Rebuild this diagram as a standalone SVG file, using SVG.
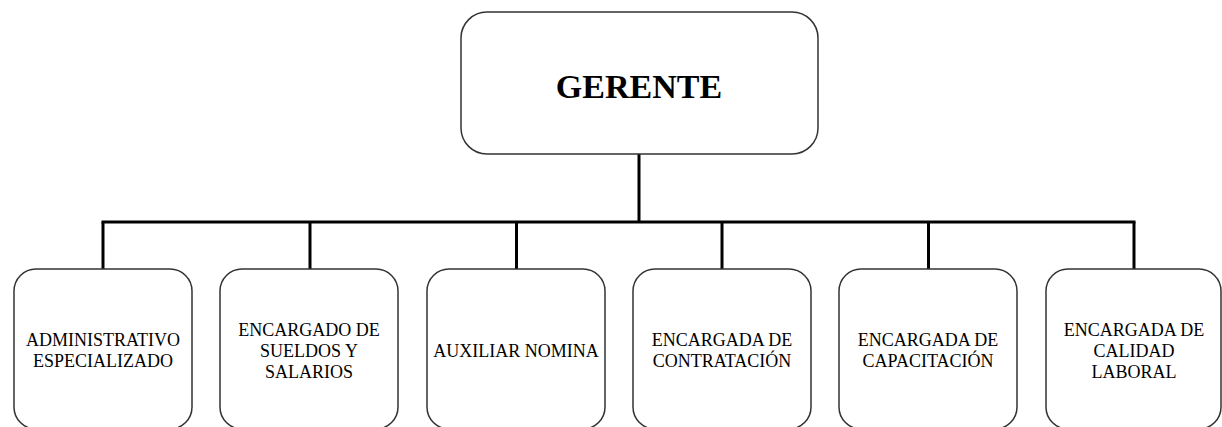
<svg xmlns="http://www.w3.org/2000/svg" width="1222" height="427" viewBox="0 0 1222 427">
<style>
.box{fill:#fff;stroke:#333;stroke-width:1.5}
.lbl{font-family:"Liberation Serif","Times New Roman",serif;font-size:18px;fill:#000;text-anchor:middle}
.title{font-family:"Liberation Serif","Times New Roman",serif;font-size:34px;font-weight:bold;fill:#000;text-anchor:middle}
.conn{fill:none;stroke:#000;stroke-width:3}
</style>
<rect width="1222" height="427" fill="#fff"/>
<g id="connectors">
<line class="conn" x1="639" y1="154" x2="639" y2="222"/>
<line class="conn" x1="101.5" y1="222" x2="1135.5" y2="222"/>
<line class="conn" x1="103" y1="222" x2="103" y2="269"/>
<line class="conn" x1="310" y1="222" x2="310" y2="269"/>
<line class="conn" x1="516.5" y1="222" x2="516.5" y2="269"/>
<line class="conn" x1="722" y1="222" x2="722" y2="269"/>
<line class="conn" x1="928.5" y1="222" x2="928.5" y2="269"/>
<line class="conn" x1="1134" y1="222" x2="1134" y2="269"/>
</g>
<g id="gerente">
<rect class="box" x="461" y="12" width="357" height="142" rx="26" ry="26"/>
<text class="title" x="639" y="98">GERENTE</text>
</g>
<g id="administrativo">
<rect class="box" x="14" y="269" width="178" height="160" rx="22" ry="22"/>
<text class="lbl" x="103" y="346">ADMINISTRATIVO</text>
<text class="lbl" x="103" y="367">ESPECIALIZADO</text>
</g>
<g id="sueldos">
<rect class="box" x="220" y="269" width="178" height="160" rx="22" ry="22"/>
<text class="lbl" x="309" y="336">ENCARGADO DE</text>
<text class="lbl" x="309" y="357">SUELDOS Y</text>
<text class="lbl" x="309" y="378">SALARIOS</text>
</g>
<g id="auxiliar">
<rect class="box" x="427" y="269" width="178" height="160" rx="22" ry="22"/>
<text class="lbl" x="516" y="357">AUXILIAR NOMINA</text>
</g>
<g id="contratacion">
<rect class="box" x="633" y="269" width="178" height="160" rx="22" ry="22"/>
<text class="lbl" x="722" y="346">ENCARGADA DE</text>
<text class="lbl" x="722" y="367">CONTRATACIÓN</text>
</g>
<g id="capacitacion">
<rect class="box" x="839" y="269" width="178" height="160" rx="22" ry="22"/>
<text class="lbl" x="928" y="346">ENCARGADA DE</text>
<text class="lbl" x="928" y="367">CAPACITACIÓN</text>
</g>
<g id="calidad">
<rect class="box" x="1046" y="269" width="175" height="160" rx="22" ry="22"/>
<text class="lbl" x="1134" y="336">ENCARGADA DE</text>
<text class="lbl" x="1134" y="357">CALIDAD</text>
<text class="lbl" x="1134" y="378">LABORAL</text>
</g>
</svg>
